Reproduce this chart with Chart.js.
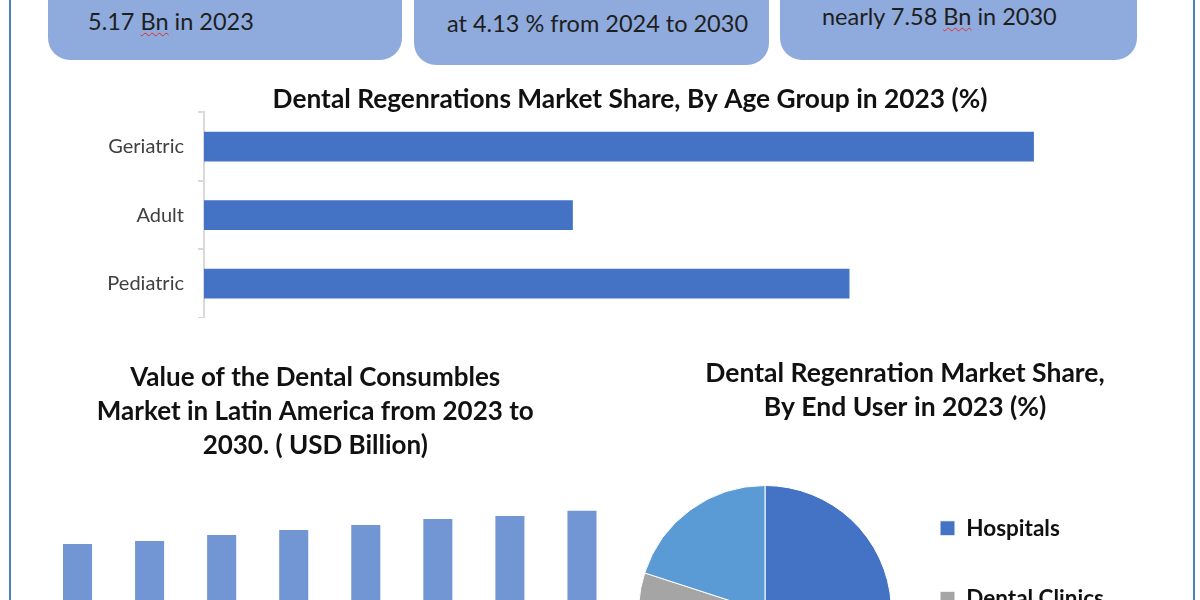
<!DOCTYPE html>
<html>
<head>
<meta charset="utf-8">
<title>Dental Regeneration Market</title>
<script src="https://cdn.jsdelivr.net/npm/chart.js@4.4.1/dist/chart.umd.min.js"></script>
<style>
  body {
    margin: 0;
    width: 1200px;
    height: 600px;
    overflow: hidden;
    position: relative;
    background: #fff;
    font-family: Lato, "Open Sans", sans-serif;
  }
  .frame {
    position: absolute;
    left: 9px;
    top: -20px;
    width: 1182px;
    height: 700px;
    border-left: 2px solid #4f7cbf;
    border-right: 2px solid #4f7cbf;
  }
  .box {
    position: absolute;
    top: -80px;
    background: #8faadc;
    border-radius: 22px;
  }
  .txt {
    position: absolute;
    font-size: 23.5px;
    color: #1e1e1e;
    white-space: nowrap;
    line-height: 1;
  }
  .squiggle {
    text-decoration: underline wavy #e0302a;
    text-decoration-thickness: 1px;
    text-underline-offset: 2px;
  }
  canvas { position: absolute; }
</style>
</head>
<body>

<div class="frame"></div>

<div class="box" style="left:48px; width:354px; height:140px;"></div>
<div class="box" style="left:414px; width:355px; height:145px;"></div>
<div class="box" style="left:780px; width:357px; height:140px;"></div>

<div class="txt" style="left:88px; top:10px;">5.17 <span class="squiggle">Bn</span> in 2023</div>
<div class="txt" style="left:447px; top:12px;">at 4.13 % from 2024 to 2030</div>
<div class="txt" style="left:822px; top:5px;">nearly 7.58 <span class="squiggle">Bn</span> in 2030</div>

<canvas id="ageChart" width="1066" height="233" style="left:97px; top:85px;"></canvas>
<canvas id="valueChart" width="608" height="257" style="left:10px; top:358px;"></canvas>
<canvas id="userChart" width="534" height="405" style="left:638px; top:350px;"></canvas>

<script>
// age group share 2023 (%)
const ageGroups = ['Geriatric', 'Adult', 'Pediatric'];
const ageShare = [45, 20, 35];

// dental consumables, Latin America (USD Bn)
const years = ['2023', '2024', '2025', '2026', '2027', '2028', '2029', '2030'];
const marketValue = [5.17, 5.38, 5.82, 6.18, 6.55, 6.98, 7.20, 7.58];

// end user share 2023 (%)
const endUsers = ['Hospitals', 'Dental Clinics', 'Academic & Research Institutes'];
const endUserShare = [48, 32, 20];
const endUserColors = ['#4472c4', '#a5a5a5', '#5b9bd5'];

Chart.defaults.font.family = 'Lato, "Open Sans", sans-serif';
Chart.defaults.color = '#404040';
Chart.defaults.animation = false;

new Chart(document.getElementById('ageChart'), {
    type: 'bar',
    data: {
        labels: ageGroups,
        datasets: [{
            data: ageShare,
            backgroundColor: '#4472c4',
            categoryPercentage: 1,
            barPercentage: 0.433
        }]
    },
    options: {
        responsive: false,
        indexAxis: 'y',
        layout: { padding: 0 },
        plugins: {
            legend: { display: false },
            tooltip: { enabled: false },
            title: {
                display: true,
                text: 'Dental Regenrations Market Share, By Age Group in 2023 (%)',
                color: '#111',
                font: { size: 26.3, weight: 'bold', lineHeight: 1 },
                padding: { top: 1, bottom: 0 }
            }
        },
        scales: {
            x: { display: false, min: 0, max: 52 },
            y: {
                afterFit: scale => {
                    scale.width = 107;
                    // keep the label half-heights from shrinking the plot
                    scale.paddingTop = 0;
                    scale.paddingBottom = 0;
                },
                grid: {
                    drawOnChartArea: false,
                    tickLength: 6,
                    color: '#d9d9d9',
                    lineWidth: 2
                },
                border: { color: '#d9d9d9', width: 2 },
                ticks: {
                    padding: 14,
                    color: '#404040',
                    font: { size: 20 }
                }
            }
        }
    }
});

new Chart(document.getElementById('valueChart'), {
    type: 'bar',
    data: {
        labels: years,
        datasets: [{
            data: marketValue,
            backgroundColor: '#7296d3',
            categoryPercentage: 1,
            barPercentage: 0.403
        }]
    },
    options: {
        responsive: false,
        layout: { padding: { left: 2.5, right: 0 } },
        plugins: {
            legend: { display: false },
            tooltip: { enabled: false },
            title: {
                display: true,
                text: ['Value of the Dental Consumbles', 'Market in Latin America from 2023 to', '2030. ( USD Billion)'],
                color: '#111',
                font: { size: 26, weight: 'bold', lineHeight: 34 / 26 },
                padding: { top: 3, bottom: 42 }
            }
        },
        scales: {
            x: { display: false },
            y: {
                min: 0,
                max: 8,
                afterFit: scale => { scale.width = 29; },
                grid: { display: false },
                border: { display: false },
                ticks: { display: false }
            }
        }
    }
});

new Chart(document.getElementById('userChart'), {
    type: 'pie',
    data: {
        labels: endUsers,
        datasets: [{
            data: endUserShare,
            backgroundColor: endUserColors,
            borderColor: '#ffffff',
            borderWidth: 1,
            hoverOffset: 0
        }]
    },
    options: {
        responsive: false,
        layout: { padding: 0 },
        plugins: {
            tooltip: { enabled: false },
            title: {
                display: true,
                text: ['Dental Regenration Market Share,', 'By End User in 2023 (%)'],
                color: '#111',
                font: { size: 26.5, weight: 'bold', lineHeight: 34 / 26.5 },
                padding: { top: 6, bottom: 45 }
            },
            legend: {
                position: 'right',
                align: 'start',
                fullSize: false,
                maxWidth: 280,
                labels: {
                    color: '#111',
                    boxWidth: 15,
                    boxHeight: 15,
                    padding: 48,
                    font: { size: 22.5, weight: 'bold', lineHeight: 22 / 22.5 }
                }
            }
        }
    }
});
</script>
</body>
</html>
